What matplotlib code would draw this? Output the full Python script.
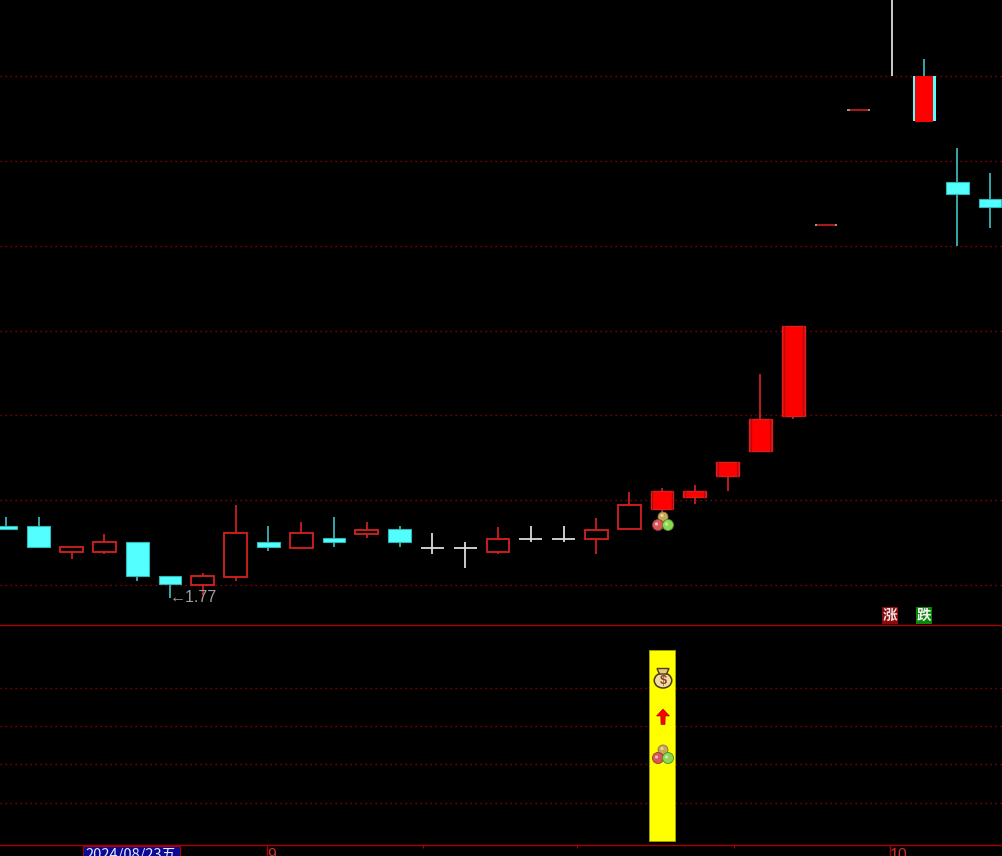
import matplotlib
matplotlib.use('Agg')
import matplotlib.pyplot as plt
from matplotlib.patches import Circle, Ellipse, Polygon, Rectangle

# daily prices
opens = [1.939, 1.939, 1.878, 1.878, 1.901, 1.821, 1.799, 1.819, 1.901, 1.887, 1.911,
         1.920, 1.932, 1.887, 1.887, 1.878, 1.908, 1.908, 1.908, 1.932, 1.979,
         2.007, 2.057, 2.116, 2.198, 2.649, 2.920, 3.400, 2.892, 2.750, 2.710]
closes = [1.932, 1.890, 1.890, 1.901, 1.821, 1.802, 1.821, 1.923, 1.890, 1.923, 1.901,
          1.930, 1.901, 1.887, 1.887, 1.908, 1.908, 1.908, 1.930, 1.989, 2.022,
          2.022, 2.090, 2.191, 2.411, 2.649, 2.920, 3.400, 3.000, 2.722, 2.691]
highs = [1.960, 1.960, 1.890, 1.920, 1.901, 1.821, 1.828, 1.989, 1.939, 1.949, 1.960,
         1.949, 1.939, 1.923, 1.901, 1.937, 1.939, 1.939, 1.958, 2.019, 2.029,
         2.036, 2.090, 2.297, 2.411, 2.649, 2.920, 3.450, 3.040, 2.830, 2.771]
lows = [1.932, 1.890, 1.861, 1.873, 1.809, 1.770, 1.776, 1.809, 1.880, 1.887, 1.890,
        1.911, 1.890, 1.873, 1.840, 1.873, 1.901, 1.901, 1.873, 1.932, 1.972,
        1.991, 2.022, 2.116, 2.191, 2.649, 2.920, 3.000, 2.892, 2.599, 2.642]
solid_red = [20, 21, 22, 23, 24, 28]
flat_red = [25, 26]
price_grid = [1.8, 2.0, 2.2, 2.4, 2.6, 2.8, 3.0]
low_label = '←1.77'

signal_index = 20
signal_value = 5
signal_grid = [1, 2, 3, 4]

month_ticks = [7.96, 26.95]
month_labels = ['9', '10']
minor_ticks = [12.7, 17.4, 22.2]
date_label = '2024/08/23五'

RED = '#ff0000'
EDGE = '#d82020'
WICK = '#c82020'
CYAN = '#54ffff'
CYAN_WICK = '#38b4b4'
WHITE = '#dcdcdc'
LINE = '#a80000'
GRID = '#960000'
BODY_W = 0.69

W, H = 1002, 856
plt.rcParams['font.family'] = ['Liberation Sans', 'Noto Sans CJK SC', 'DejaVu Sans']
fig = plt.figure(figsize=(W / 100, H / 100), dpi=100, facecolor='black')

# x index -> pixel is 6 + 32.8 * i
xlim = (-6 / 32.8, (W - 6) / 32.8)
low_ax = fig.add_axes([0, 1 - 845 / H, 1, 220 / H], facecolor='none')
ax = fig.add_axes([0, 1 - 625 / H, 1, 625 / H], facecolor='black', sharex=low_ax)
ax.set_xlim(*xlim)
ax.set_ylim(1.8 - 40 * 0.0023576, 1.8 + 585 * 0.0023576)
low_ax.set_ylim(-4 / 38.3, 216 / 38.3)

for a in (ax, low_ax):
    for side in ('top', 'left', 'right'):
        a.spines[side].set_visible(False)
    a.spines['bottom'].set_color(LINE)
    a.spines['bottom'].set_linewidth(1.0)
    a.tick_params(axis='y', length=0, labelleft=False)
    a.grid(axis='y', color=GRID, linewidth=1.0, linestyle=(0, (1, 2.6)))
    a.set_axisbelow(True)
ax.set_yticks(price_grid)
low_ax.set_yticks(signal_grid)
ax.tick_params(axis='x', which='both', length=0, labelbottom=False)

for i, (o, c, h, l) in enumerate(zip(opens, closes, highs, lows)):
    top, bot = max(o, c), min(o, c)
    if i in flat_red:
        ax.plot([i - 0.35, i + 0.35], [o, o], color='#b0b0b0', lw=1.2, solid_capstyle='butt', zorder=3)
        ax.plot([i - 0.27, i + 0.27], [o, o], color='#b00000', lw=1.2, solid_capstyle='butt', zorder=4)
        continue
    if o == c:
        ax.plot([i, i], [l, h], color=WHITE, lw=1.3, solid_capstyle='butt', zorder=3)
        ax.plot([i - 0.35, i + 0.35], [o, o], color=WHITE, lw=1.3, solid_capstyle='butt', zorder=3)
        continue
    up = c > o and i != 28
    ax.plot([i, i], [l, h], color=WICK if up else CYAN_WICK, lw=1.3, solid_capstyle='butt', zorder=2)
    if i == 28:
        # this one sits over a cyan body
        ax.bar(i, top - bot - 0.003, bottom=bot + 0.003, width=0.72, color=CYAN, zorder=3)
        ax.bar(i, top - bot, bottom=bot, width=0.55, color=RED, zorder=4)
    elif i in solid_red:
        ax.bar(i, top - bot, bottom=bot, width=BODY_W, color=RED, edgecolor=EDGE, linewidth=1.0, zorder=3)
        for dx in (-0.29, 0.29):
            ax.plot([i + dx, i + dx], [bot, top], color='#a81010', lw=0.9, zorder=4)
    elif up:
        ax.bar(i, top - bot, bottom=bot, width=BODY_W, color='black', edgecolor=EDGE, linewidth=1.3, zorder=3)
    else:
        ax.bar(i, top - bot, bottom=bot, width=BODY_W, color=CYAN, edgecolor='#2fb8b8', linewidth=0.8, zorder=3)

low_i = lows.index(min(lows))
ax.text(low_i, min(lows), low_label, color='#a0a0a0', fontsize=11.5, ha='left', va='center', zorder=6)

# signal column in the lower pane
low_ax.bar(signal_index, signal_value, width=0.8, color='#ffff00', edgecolor='#a0a000', linewidth=0.7, zorder=3)

low_ax.set_xticks(month_ticks)
low_ax.set_xticklabels(month_labels, color='#c83030', fontsize=11.5, ha='left')
low_ax.tick_params(axis='x', which='major', length=8, width=1, color=LINE, pad=-6, direction='out')
low_ax.set_xticks(minor_ticks, minor=True)
low_ax.tick_params(axis='x', which='minor', length=2.5, width=0.8, color=LINE)

# overlay in pixels for the icons and the buttons
ov = fig.add_axes([0, 0, 1, 1], facecolor='none')
ov.set_xlim(0, W)
ov.set_ylim(H, 0)
ov.axis('off')


def draw_balls(cx, cy):
    ov.add_patch(Circle((cx, cy - 5), 5, fc='#c8a850', ec='#8a7640', lw=0.6, zorder=5))
    ov.add_patch(Circle((cx - 5, cy + 3), 5.5, fc='#d85858', ec='#903838', lw=0.6, zorder=6))
    ov.add_patch(Circle((cx + 5, cy + 3), 5.5, fc='#88d850', ec='#4c8c30', lw=0.6, zorder=6))
    for dx, dy in ((-6.5, 2), (3.5, 2), (-1, -6.5)):
        ov.add_patch(Circle((cx + dx, cy + dy), 1.6, fc='#f0e8e0', ec='none', alpha=0.7, zorder=7))


def draw_bag(cx, cy):
    ov.add_patch(Ellipse((cx, cy + 2.5), 17.5, 15, fc='#f0dca0', ec='#4a3818', lw=1.1, zorder=5))
    ov.add_patch(Polygon([(cx - 6, cy - 9.5), (cx + 6, cy - 9.5), (cx + 3.5, cy - 4), (cx - 3.5, cy - 4)],
                         fc='#e8c878', ec='#4a3818', lw=1.0, zorder=6))
    ov.text(cx, cy + 2.5, '$', color='#8a4030', fontsize=9, fontweight='bold', ha='center', va='center', zorder=7)


def draw_arrow(cx, cy):
    pts = [(cx, cy - 8), (cx + 6.5, cy - 1), (cx + 2.2, cy - 1), (cx + 2, cy + 7.5),
           (cx - 2, cy + 7.5), (cx - 2.2, cy - 1), (cx - 6.5, cy - 1)]
    ov.add_patch(Polygon(pts, fc='#ff0000', ec='#900000', lw=0.4, zorder=5))


draw_balls(663, 522)
draw_bag(663, 678)
draw_arrow(663, 717)
draw_balls(663, 755)

ov.add_patch(Rectangle((882, 607), 16, 17, fc='#8b0a0a', ec='none', zorder=5))
ov.text(890, 615.5, '涨', color='#f0e0e0', fontsize=10.5, fontweight='bold', ha='center', va='center', zorder=6)
ov.add_patch(Rectangle((916, 607), 16, 17, fc='#0a860a', ec='none', zorder=5))
ov.text(924, 615.5, '跌', color='#f0f0f0', fontsize=10.5, fontweight='bold', ha='center', va='center', zorder=6)

ov.add_patch(Rectangle((83.5, 845.5), 97, 12, fc='#0a0a96', ec=LINE, lw=0.8, zorder=5))
ov.text(85, 847.5, date_label, color='#e8e8ff', fontsize=10.5, ha='left', va='top', zorder=6,
        family=['Noto Sans CJK SC', 'DejaVu Sans'])

fig.savefig('out.png', dpi=100, facecolor='black')
